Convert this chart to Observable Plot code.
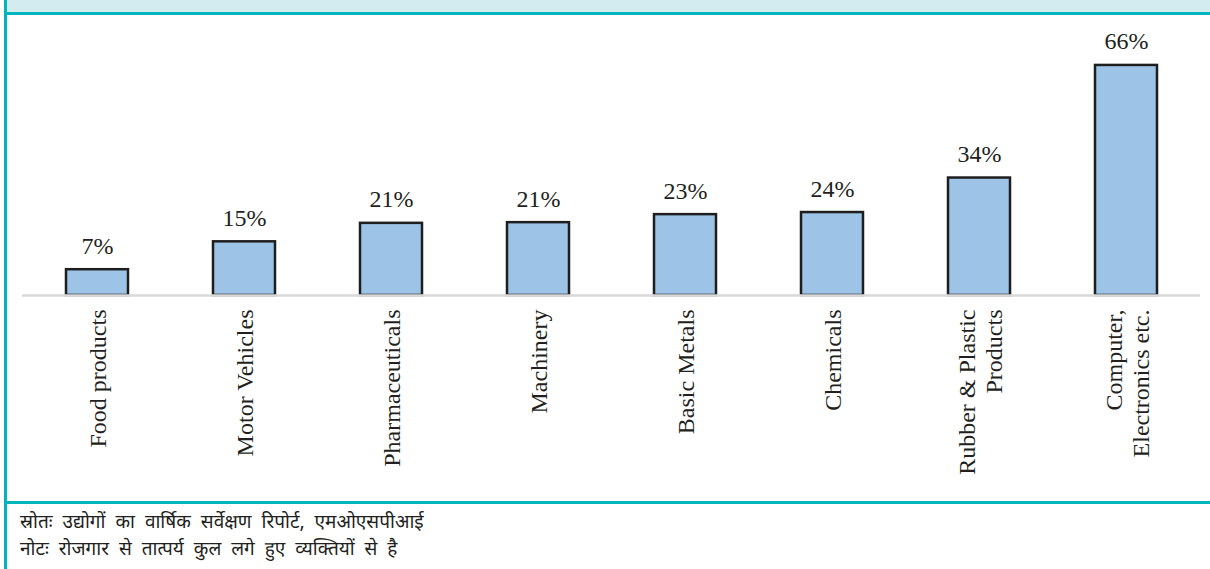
<!DOCTYPE html>
<html>
<head>
<meta charset="utf-8">
<script src="https://cdn.jsdelivr.net/npm/d3@7"></script>
<script src="https://cdn.jsdelivr.net/npm/@observablehq/plot@0.6"></script>
<style>
  html, body { margin: 0; padding: 0; background: #ffffff; }
  #page { position: relative; width: 1210px; height: 569px; overflow: hidden; background: #fff; }
  #header { position: absolute; left: 7px; top: 0; width: 1203px; height: 12px; background: #d3ecef; }
  #topline { position: absolute; left: 4px; top: 12px; width: 1206px; height: 3px; background: #00b5bd; }
  #leftline { position: absolute; left: 4px; top: 0; width: 3px; height: 569px; background: #00b5bd; }
  #chart { position: absolute; left: 0; top: 15px; }
  #footline { position: absolute; left: 4px; top: 501px; width: 1206px; height: 3px; background: #00b5bd; }
  #footer { position: absolute; left: 20px; top: 510px; font-family: "Noto Sans Devanagari", "Noto Sans", "Lohit Devanagari", "FreeSans", sans-serif; font-size: 19px; line-height: 27px; word-spacing: 5px; color: #231f20; }
</style>
</head>
<body>
<div id="page">
  <div id="header"></div>
  <div id="leftline"></div>
  <div id="topline"></div>
  <div id="chart"></div>
  <div id="footline"></div>
  <div id="footer">
    <div id="src"></div>
    <div id="note"></div>
  </div>
</div>
<script>
const categories = ["Food products", "Motor Vehicles", "Pharmaceuticals", "Machinery", "Basic Metals", "Chemicals", "Rubber & Plastic\nProducts", "Computer,\nElectronics etc."];
const values = [7.4, 15.4, 20.7, 20.9, 23.2, 23.8, 33.7, 66];
const sourceText = "स्रोतः उद्योगों का वार्षिक सर्वेक्षण रिपोर्ट, एमओएसपीआई";
const noteText = "नोटः रोजगार से तात्पर्य कुल लगे हुए व्यक्तियों से है";

const data = categories.map((c, i) => ({category: c, value: values[i], label: Math.round(values[i]) + "%"}));

document.getElementById("src").textContent = sourceText;
document.getElementById("note").textContent = noteText;

const chart = Plot.plot({
  width: 1210,
  height: 486,
  marginLeft: 22,
  marginRight: 10,
  marginTop: 36,
  marginBottom: 206,
  style: {fontFamily: "'Liberation Serif', 'Times New Roman', serif", fontSize: "24px", color: "#231f20", background: "transparent"},
  x: {domain: categories, paddingInner: 0.58, paddingOuter: 0.29, axis: null},
  y: {domain: [0, 70], axis: null},
  marks: [
    Plot.barY(data, {x: "category", y: "value", fill: "#9dc3e6", stroke: "#1e1e1e", strokeWidth: 2.5}),
    Plot.ruleY([0], {stroke: "#d9d9d9", strokeWidth: 2.5}),
    Plot.text(data, {x: "category", y: "value", text: "label", dy: -16, lineAnchor: "bottom", fontSize: 24, fill: "#231f20"}),
    Plot.text(data, {x: "category", y: () => 0, text: "category", rotate: -90, textAnchor: "end", lineAnchor: "middle", dy: 14, lineHeight: 1.15, fontSize: 24, fill: "#231f20"})
  ]
});
document.getElementById("chart").appendChild(chart);
</script>
</body>
</html>
